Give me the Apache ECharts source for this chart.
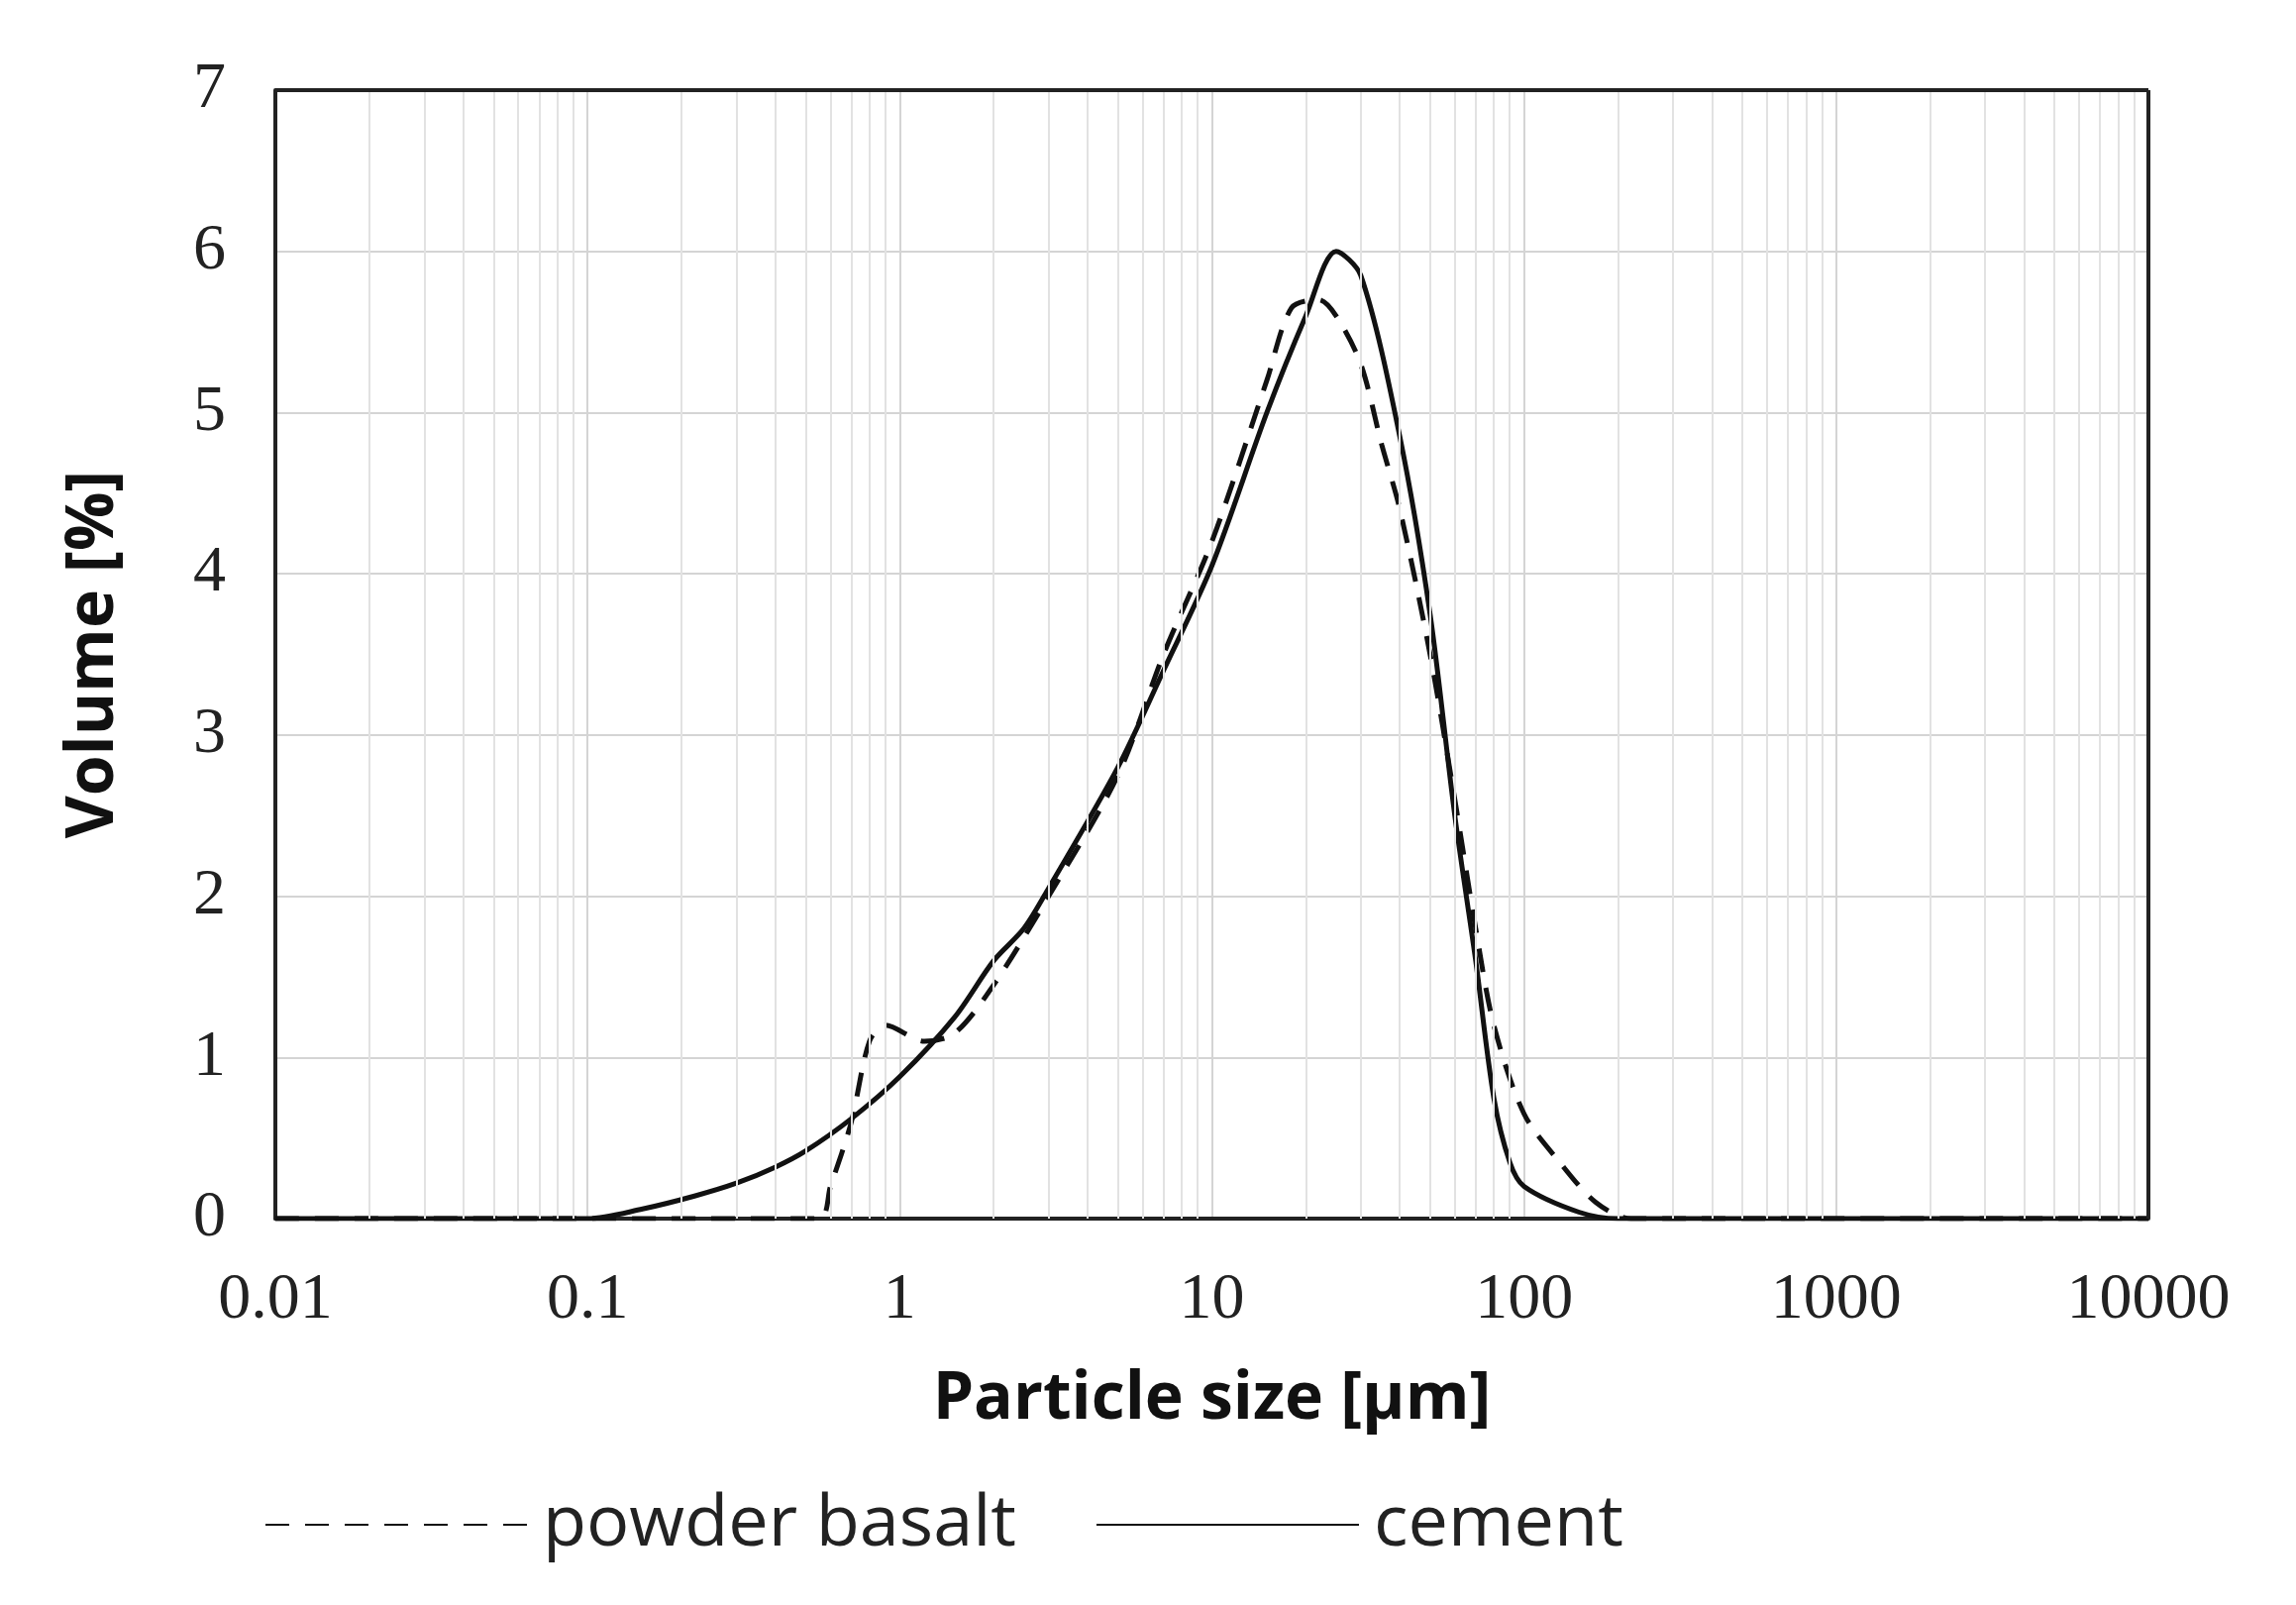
<!DOCTYPE html>
<html>
<head>
<meta charset="utf-8">
<script src="https://cdn.jsdelivr.net/npm/echarts@6/dist/echarts.min.js"></script>
<style>html,body{margin:0;padding:0;background:#fff}#chart{width:2318px;height:1620px}</style>
</head>
<body>
<div id="chart"></div>
<script>
// Particle size distribution (x in µm, y in volume %)
const cementSize = [0.01, 0.05, 0.1, 0.15, 0.22, 0.3, 0.4, 0.5, 0.7, 1, 1.5, 2, 2.5, 3, 5, 7, 10, 15, 20, 25, 30, 40, 50, 60, 70, 80, 90, 100, 150, 200, 10000];
const cementVol  = [0, 0, 0, 0.06, 0.14, 0.22, 0.32, 0.42, 0.62, 0.88, 1.25, 1.6, 1.8, 2.05, 2.8, 3.4, 4.05, 5.0, 5.6, 6.0, 5.85, 4.85, 3.75, 2.5, 1.6, 0.75, 0.35, 0.2, 0.04, 0, 0];
const basaltSize = [0.01, 0.55, 0.6, 0.7, 0.8, 0.9, 1.2, 1.5, 2, 3, 5, 7, 10, 15, 18, 22, 25, 30, 35, 40, 50, 60, 70, 80, 100, 130, 170, 220, 10000];
const basaltVol  = [0, 0, 0.2, 0.6, 1.1, 1.2, 1.1, 1.15, 1.45, 2.0, 2.75, 3.5, 4.2, 5.2, 5.65, 5.7, 5.6, 5.3, 4.8, 4.4, 3.5, 2.6, 1.8, 1.2, 0.65, 0.35, 0.1, 0, 0];
const decades = [0.01, 0.1, 1, 10, 100, 1000];
const minorSteps = [2, 3, 4, 5, 6, 7, 8, 9];

const minorLines = [];
decades.forEach(d => minorSteps.forEach(m => minorLines.push({ xAxis: +(d * m).toPrecision(3) })));

const zip = (xs, ys) => xs.map((x, i) => [x, ys[i]]);

const chart = echarts.init(document.getElementById('chart'));
chart.setOption({
    animation: false,
    backgroundColor: '#fff',
    grid: { left: 278, right: 149, top: 91, bottom: 390 },
    xAxis: {
        type: 'log', logBase: 10, min: 0.01, max: 10000,
        name: 'Particle size [µm]', nameLocation: 'middle', nameGap: 150,
        nameTextStyle: { fontFamily: 'Open Sans', fontWeight: 'bold', fontSize: 66, color: '#111' },
        axisLine: { lineStyle: { color: '#222', width: 4 } },
        axisTick: { show: false },
        axisLabel: { fontFamily: 'Liberation Serif', fontSize: 66, color: '#222', margin: 50,
            formatter: v => String(+v.toPrecision(3)) },
        splitLine: { show: true, lineStyle: { color: '#d4d4d4', width: 2 } }
    },
    yAxis: {
        type: 'value', min: 0, max: 7, interval: 1,
        name: 'Volume [%]', nameLocation: 'middle', nameGap: 150, nameRotate: 90,
        nameTextStyle: { fontFamily: 'Open Sans', fontWeight: 'bold', fontSize: 66, color: '#111' },
        axisLine: { show: true, lineStyle: { color: '#222', width: 4 } },
        axisTick: { show: false },
        axisLabel: { fontFamily: 'Liberation Serif', fontSize: 66, color: '#222', margin: 50 },
        splitLine: { show: true, lineStyle: { color: '#d4d4d4', width: 2 } }
    },
    legend: {
        bottom: 40, left: 262, itemWidth: 265, itemHeight: 20, itemGap: 80,
        itemStyle: { opacity: 0 },
        textStyle: { fontFamily: 'Open Sans', fontSize: 72, color: '#222', padding: [0, 0, 0, 10] },
        data: ['powder basalt', 'cement']
    },
    series: [
        {
            name: 'frame', type: 'line', data: [], silent: true,
            markLine: { symbol: 'none', silent: true, label: { show: false },
                lineStyle: { color: '#e2e2e2', width: 2, type: 'solid' }, data: minorLines }
        },
        {
            name: 'frameTop', type: 'line', data: [], silent: true,
            markLine: { symbol: 'none', silent: true, label: { show: false },
                lineStyle: { color: '#222', width: 4, type: 'solid' },
                data: [{ yAxis: 7 }, { xAxis: 10000 }] }
        },
        {
            name: 'powder basalt', type: 'line', data: zip(basaltSize, basaltVol),
            smooth: 0.3, showSymbol: false, symbol: 'none',
            lineStyle: { color: '#111', width: 5, type: [24, 16] },
            itemStyle: { color: '#111' }
        },
        {
            name: 'cement', type: 'line', data: zip(cementSize, cementVol),
            smooth: 0.3, showSymbol: false, symbol: 'none',
            lineStyle: { color: '#111', width: 5 },
            itemStyle: { color: '#111' }
        }
    ]
});
</script>
</body>
</html>
